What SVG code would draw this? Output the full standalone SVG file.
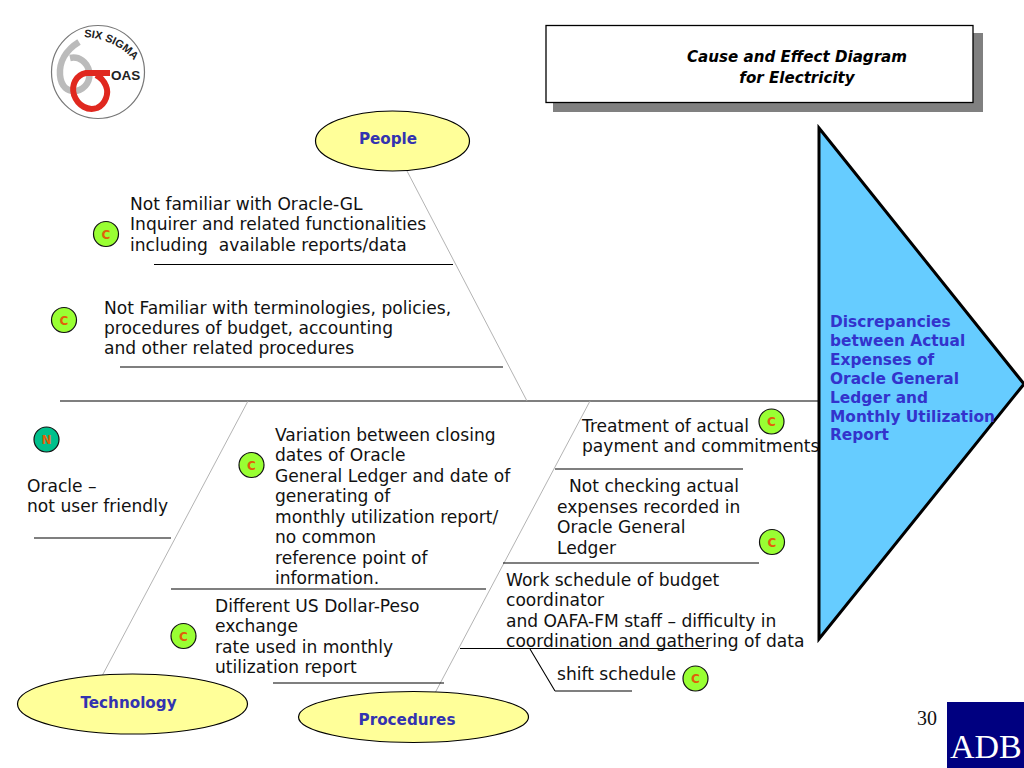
<svg xmlns="http://www.w3.org/2000/svg" width="1024" height="768" viewBox="0 0 1024 768">
<style>
.t{font-family:"DejaVu Sans",Verdana,sans-serif;font-size:17.100px;fill:#111;white-space:pre}
.h{font-family:"DejaVu Sans",Verdana,sans-serif;font-size:15.200px;font-weight:700;fill:#3333b0;text-anchor:middle}
.b{font-family:"DejaVu Sans",Verdana,sans-serif;font-size:15.400px;font-weight:700;fill:#3333cc}
.ti{font-family:"DejaVu Sans",Verdana,sans-serif;font-size:15.100px;font-weight:700;font-style:italic;fill:#000;text-anchor:middle}
.k{font-family:"DejaVu Sans",Verdana,sans-serif;font-size:12px;font-weight:700;fill:#e0600a;text-anchor:middle}
.c{fill:#99ff33;stroke:#111;stroke-width:1.200}
.n{fill:#00c08c;stroke:#111;stroke-width:1.200}
.e{fill:#ffff99;stroke:#000;stroke-width:1.200}
.l1{stroke:#555;stroke-width:1.300;fill:none}
.l2{stroke:#000;stroke-width:1.100;fill:none}
.l3{stroke:#aaa;stroke-width:.9;fill:none}
.lg{font-family:"Liberation Sans",Arial,sans-serif;font-weight:700;fill:#222}
</style>
<defs><path id="arc" d="M84 37C105 38 125 47 139 67"/></defs>
<rect width="1024" height="768" fill="#fff"/>
<g id="logo">
<circle cx="98" cy="72" r="46.500" fill="#fff" stroke="#777" stroke-width="1.200"/>
<path d="M79 42C66 50 59 62 60 75C61 87 68 92 76 91C86 89 91 80 89 71C87 62 79 56 70 58" fill="none" stroke="#bbb" stroke-width="6.500"/>
<path d="M110 73H86C76 75 71 85 74 95C78 106 88 111 97 108C106 104 109 93 106 86C104 81 100 77 96 75" fill="none" stroke="#e0281f" stroke-width="6"/>
<text class="lg" font-size="11"><textPath href="#arc">SIX SIGMA</textPath></text>
<text class="lg" x="111" y="80" font-size="13.500">OAS</text>
</g>
<g id="title">
<rect x="553" y="33" width="430" height="79" fill="#808080"/>
<rect x="546" y="25.500" width="427" height="77" fill="#fff" stroke="#000" stroke-width="1.300"/>
<text class="ti" x="797" y="62">Cause and Effect Diagram</text>
<text class="ti" x="797" y="83">for Electricity</text>
</g>
<g id="connectors">
<path class="l1" d="M60 401H820"/>
<path class="l3" d="M407 171L527 401M248 401L102 676M590 401L435 693"/>
<path class="l2" d="M154 264.500H453M120 367H503M34 538H171M171 589H486M273 683H444M555 469H743M503 563H759M460 648.500H708M530 649L555 691"/>
<path class="l1" d="M555 691H632"/>
</g>
<g id="effect">
<path d="M819 128L1024 384L819 639Z" fill="#66ccff" stroke="#000" stroke-width="3"/>
<text class="b"><tspan x="830" y="327">Discrepancies</tspan><tspan x="830" y="346">between Actual</tspan><tspan x="830" y="365">Expenses of</tspan><tspan x="830" y="384">Oracle General</tspan><tspan x="830" y="403">Ledger and</tspan><tspan x="830" y="422">Monthly Utilization</tspan><tspan x="830" y="440">Report</tspan></text>
</g>
<g id="people"><ellipse class="e" cx="392.500" cy="141" rx="77" ry="30"/><text class="h" x="388" y="144">People</text></g>
<g id="technology"><ellipse class="e" cx="132.500" cy="704" rx="115" ry="30"/><text class="h" x="128.500" y="708">Technology</text></g>
<g id="procedures"><ellipse class="e" cx="413.500" cy="717" rx="115" ry="25.500"/><text class="h" x="407" y="725">Procedures</text></g>
<g id="cause1"><circle class="c" cx="106" cy="234" r="12.500"/><text class="k" x="106" y="238.500">C</text>
<text class="t"><tspan x="130" y="209.500">Not familiar with Oracle-GL</tspan><tspan x="130" y="230">Inquirer and related functionalities</tspan><tspan x="130" y="250.500">including  available reports/data</tspan></text></g>
<g id="cause2"><circle class="c" cx="64" cy="320" r="12.500"/><text class="k" x="64" y="324.500">C</text>
<text class="t"><tspan x="104" y="313.500">Not Familiar with terminologies, policies,</tspan><tspan x="104" y="333.500">procedures of budget, accounting</tspan><tspan x="104" y="353.500">and other related procedures</tspan></text></g>
<g id="cause3"><circle class="n" cx="46.500" cy="439.500" r="12.500"/><text class="k" x="46.500" y="444">N</text>
<text class="t"><tspan x="27" y="491.500">Oracle –</tspan><tspan x="27" y="512">not user friendly</tspan></text></g>
<g id="cause4"><circle class="c" cx="251.500" cy="465" r="12.500"/><text class="k" x="251.500" y="469.500">C</text>
<text class="t"><tspan x="275" y="440.500">Variation between closing</tspan><tspan x="275" y="460.500">dates of Oracle</tspan><tspan x="275" y="481.500">General Ledger and date of</tspan><tspan x="275" y="501.500">generating of</tspan><tspan x="275" y="522.500">monthly utilization report/</tspan><tspan x="275" y="542.500">no common</tspan><tspan x="275" y="563.500">reference point of</tspan><tspan x="275" y="583.500">information.</tspan></text></g>
<g id="cause5"><circle class="c" cx="183.500" cy="636" r="12.500"/><text class="k" x="183.500" y="640.500">C</text>
<text class="t"><tspan x="215" y="611.500">Different US Dollar-Peso</tspan><tspan x="215" y="631.500">exchange</tspan><tspan x="215" y="652.500">rate used in monthly</tspan><tspan x="215" y="672.500">utilization report</tspan></text></g>
<g id="cause6"><circle class="c" cx="771.500" cy="421.500" r="12.500"/><text class="k" x="771.500" y="426">C</text>
<text class="t"><tspan x="582" y="432">Treatment of actual</tspan><tspan x="582" y="452">payment and commitments</tspan></text></g>
<g id="cause7"><circle class="c" cx="772" cy="542" r="12.500"/><text class="k" x="772" y="546.500">C</text>
<text class="t"><tspan x="569" y="491.500">Not checking actual</tspan><tspan x="557" y="512.500">expenses recorded in</tspan><tspan x="557" y="532.500">Oracle General</tspan><tspan x="557" y="553.500">Ledger</tspan></text></g>
<g id="cause8"><text class="t"><tspan x="506" y="585.500">Work schedule of budget</tspan><tspan x="506" y="605.500">coordinator</tspan><tspan x="506" y="626.500">and OAFA-FM staff – difficulty in</tspan><tspan x="506" y="646.500">coordination and gathering of data</tspan></text></g>
<g id="cause9"><circle class="c" cx="695.500" cy="678.500" r="12.500"/><text class="k" x="695.500" y="683">C</text>
<text class="t" x="557" y="679.500">shift schedule</text></g>
<text x="917" y="725" style="font:20px 'Liberation Serif',serif" fill="#111">30</text>
<g id="adb"><rect x="947" y="702" width="77" height="66" fill="#000080"/><text x="950" y="758" style="font:34px 'Liberation Serif',serif" fill="#fff">ADB</text></g>
</svg>
